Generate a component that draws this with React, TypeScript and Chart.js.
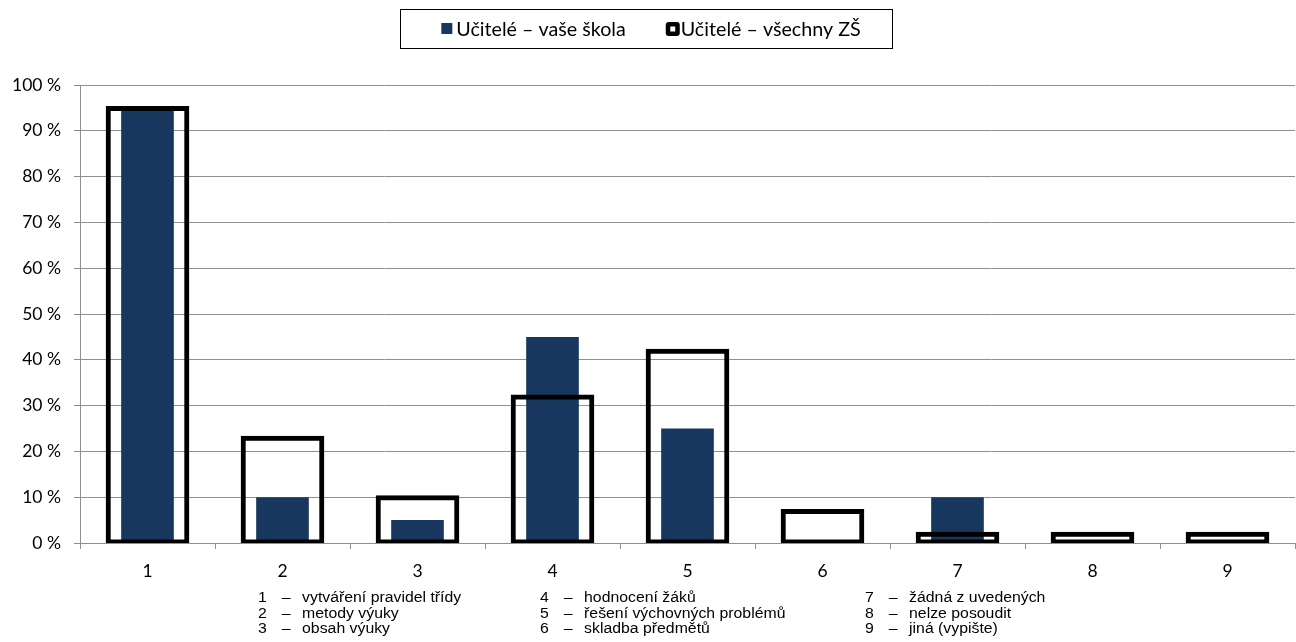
import React, { useEffect, useRef } from "react";
import { Chart, registerables } from "chart.js";

Chart.register(...registerables);

const categories = ["1", "2", "3", "4", "5", "6", "7", "8", "9"];
const schoolValues = [95, 10, 5, 45, 25, 0, 10, 0, 0];
const allSchoolsValues = [95, 23, 10, 32, 42, 7, 2, 2, 2];
const seriesLabels = ["Učitelé – vaše škola", "Učitelé – všechny ZŠ"];
const yMin = 0;
const yMax = 100;
const yStep = 10;

const footnoteNumbers = ["1", "2", "3", "4", "5", "6", "7", "8", "9"];
const footnoteTexts = [
  "vytváření pravidel třídy",
  "metody výuky",
  "obsah výuky",
  "hodnocení žáků",
  "řešení výchovných problémů",
  "skladba předmětů",
  "žádná z uvedených",
  "nelze posoudit",
  "jiná (vypište)",
];

const NAVY = "#17375E";
const GRID = "#8f8f8f";
const FONT = "Lato, 'Open Sans', sans-serif";

const boxLegend = {
  id: "boxLegend",
  afterDraw(chart: any) {
    const ctx = chart.ctx as CanvasRenderingContext2D;
    const W = chart.width;
    ctx.save();
    const frameW = 492;
    const frameLeft = Math.round(W / 2 - 2 - frameW / 2) + 0.5;
    ctx.strokeStyle = "#000";
    ctx.lineWidth = 1;
    ctx.strokeRect(frameLeft, 9.5, frameW, 39);

    ctx.font = `19.7px ${FONT}`;
    ctx.textBaseline = "middle";
    ctx.textAlign = "left";
    const datasets = chart.data.datasets;
    const boxW = 12;
    const gap = 3;
    const itemGap = 40;
    const widths = datasets.map((d: any) => ctx.measureText(d.label).width);
    const total =
      widths.reduce((a: number, b: number) => a + b + boxW + gap, 0) + itemGap * (datasets.length - 1);
    let x = W / 2 + 3 - total / 2;
    const cy = 29;
    datasets.forEach((d: any, i: number) => {
      if (d.borderWidth && d.borderColor) {
        ctx.fillStyle = "#000";
        ctx.beginPath();
        (ctx as any).roundRect(x, cy - 7, 14, 14, 3);
        ctx.fill();
        ctx.fillStyle = "#fff";
        ctx.fillRect(x + 4.5, cy - 2.5, 5, 5);
      } else {
        ctx.fillStyle = d.backgroundColor;
        ctx.fillRect(x, cy - 6, 11, 11);
      }
      ctx.fillStyle = "#000";
      ctx.fillText(d.label, x + boxW + gap, cy + 1);
      x += boxW + gap + widths[i] + itemGap;
    });
    ctx.restore();
  },
};

const footnotes = {
  id: "footnotes",
  afterDraw(chart: any) {
    const ctx = chart.ctx as CanvasRenderingContext2D;
    const area = chart.chartArea;
    const colOffsets = [178, 460, 785];
    const rowOffsets = [59, 74.5, 90];
    ctx.save();
    ctx.fillStyle = "#000";
    ctx.textBaseline = "alphabetic";
    ctx.textAlign = "left";
    ctx.font = "14px 'Liberation Sans', Arial, sans-serif";
    footnoteTexts.forEach((t, i) => {
      const col = Math.floor(i / 3);
      const row = i % 3;
      const x = area.left + colOffsets[col];
      const y = area.bottom + rowOffsets[row];
      ctx.save();
      ctx.translate(x, y);
      ctx.scale(1.13, 1);
      ctx.fillText(footnoteNumbers[i], 0, 0);
      ctx.fillText("–", 21, 0);
      ctx.fillText(t, 39, 0);
      ctx.restore();
    });
    ctx.restore();
  },
};

export default function App() {
  const canvasRef = useRef<HTMLCanvasElement | null>(null);

  useEffect(() => {
    document.body.style.margin = "0";
    const canvas = canvasRef.current;
    if (!canvas) return;
    const chart = new Chart(canvas, {
      type: "bar",
      data: {
        labels: categories,
        datasets: [
          {
            label: seriesLabels[0],
            data: schoolValues,
            backgroundColor: NAVY,
            borderWidth: 0,
            barPercentage: 0.39,
            categoryPercentage: 1,
            grouped: false,
            order: 1,
            inflateAmount: 0,
          } as any,
          {
            label: seriesLabels[1],
            data: allSchoolsValues,
            backgroundColor: "rgba(0,0,0,0)",
            borderColor: "#000",
            borderWidth: 1,
            inflateAmount: 2,
            borderSkipped: false,
            barPercentage: 0.59,
            categoryPercentage: 1,
            grouped: false,
            order: 0,
          } as any,
        ],
      },
      options: {
        animation: false,
        responsive: false,
        devicePixelRatio: 1,
        layout: { padding: { top: 85, right: 1, left: 0, bottom: 0 } },
        plugins: {
          legend: { display: false },
          tooltip: { enabled: false },
        },
        scales: {
          x: {
            type: "category",
            offset: true,
            grid: {
              display: true,
              drawOnChartArea: false,
              offset: true,
              tickLength: 6,
              color: GRID,
            },
            border: { color: GRID },
            ticks: {
              color: "#000",
              font: { family: FONT, size: 17.5 },
              padding: 12,
            },
            afterFit: (scale: any) => {
              scale.height = 99;
            },
          },
          y: {
            min: yMin,
            max: yMax,
            grid: { color: GRID, tickLength: 6 },
            border: { color: GRID },
            ticks: {
              stepSize: yStep,
              color: "#000",
              font: { family: FONT, size: 17.5 },
              padding: 13,
              callback: (v: any) => `${v} %`,
            },
            afterFit: (scale: any) => {
              scale.width = 80;
            },
          },
        },
      } as any,
      plugins: [boxLegend, footnotes],
    });
    return () => chart.destroy();
  }, []);

  return (
    <div style={{ position: "fixed", left: 0, top: 0, width: 1296, height: 642, background: "#fff" }}>
      <canvas ref={canvasRef} width={1296} height={642} style={{ display: "block" }} />
    </div>
  );
}
